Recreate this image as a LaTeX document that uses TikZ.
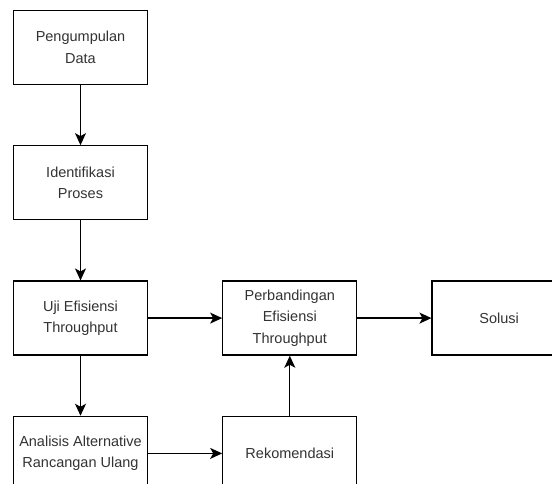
\documentclass[tikz,border=0pt]{standalone}
\usepackage{fontspec}
\setmainfont{Liberation Sans}
\usetikzlibrary{positioning,arrows.meta}
\definecolor{txtgray}{HTML}{333333}

\tikzset{
	stepbox/.style={draw=black, line width=1.3pt, fill=white, minimum width=134pt, minimum height=74pt, align=center, inner sep=0pt, text=txtgray, font=\fontsize{14.5}{21.5}\selectfont},
	flow/.style={draw=black, line width=1.3pt, -{Stealth[length=12pt, width=11pt, inset=3pt]}}
}

\begin{document}
\begin{tikzpicture}[x=1pt, y=-1pt, node distance=60pt and 74pt]
	\clip (0,0) rectangle (552,484);
	\node[stepbox] (pengumpulan) at (80.5,47.5) {Pengumpulan\\Data};
	\node[stepbox, below=of pengumpulan] (identifikasi) {Identifikasi\\Proses};
	\node[stepbox, below=of identifikasi] (uji) {Uji Efisiensi\\Throughput};
	\node[stepbox, below=of uji] (analisis) {Analisis Alternative\\Rancangan Ulang};
	\node[stepbox, right=of uji] (perbandingan) {Perbandingan\\Efisiensi\\Throughput};
	\node[stepbox, right=of analisis] (rekomendasi) {Rekomendasi};
	\node[stepbox, right=of perbandingan] (solusi) {Solusi};
	
	\draw[flow] (pengumpulan) -- (identifikasi);
	\draw[flow] (identifikasi) -- (uji);
	\draw[flow] (uji) -- (analisis);
	\draw[flow] (uji) -- (perbandingan);
	\draw[flow] (analisis) -- (rekomendasi);
	\draw[flow] (rekomendasi) -- (perbandingan);
	\draw[flow] (perbandingan) -- (solusi);
\end{tikzpicture}
\end{document}
